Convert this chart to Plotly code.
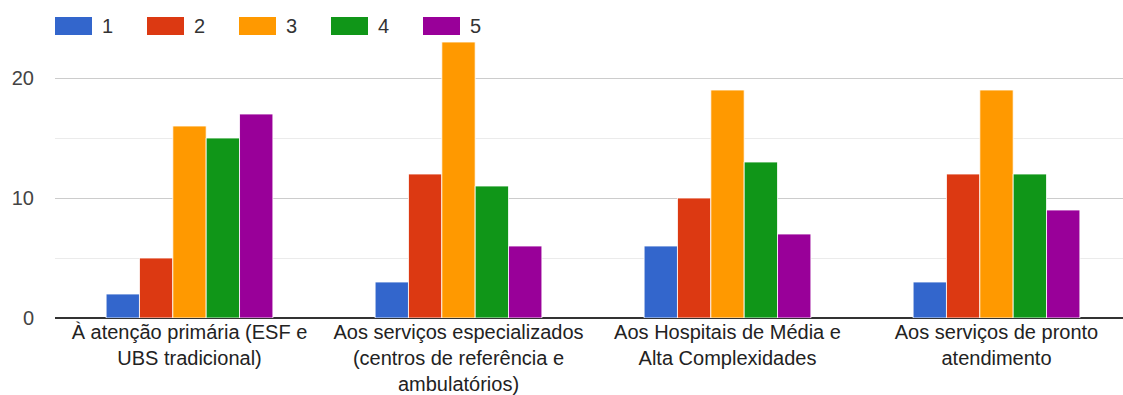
import plotly.graph_objects as go

categories = [
    "À atenção primária (ESF e<br>UBS tradicional)",
    "Aos serviços especializados<br>(centros de referência e<br>ambulatórios)",
    "Aos Hospitais de Média e<br>Alta Complexidades",
    "Aos serviços de pronto<br>atendimento",
]
series_names = ["1", "2", "3", "4", "5"]
values_1 = [2, 3, 6, 3]
values_2 = [5, 12, 10, 12]
values_3 = [16, 23, 19, 19]
values_4 = [15, 11, 13, 12]
values_5 = [17, 6, 7, 9]
series_values = [values_1, values_2, values_3, values_4, values_5]
colors = ["#3366cc", "#dc3912", "#ff9900", "#109618", "#990099"]

W, H = 1123, 395
ML, MR, MT, MB = 55, 0, 18, 77
FONT = "Liberation Sans, Arial, sans-serif"

fig = go.Figure()
for name, vals, col in zip(series_names, series_values, colors):
    fig.add_trace(go.Bar(
        x=list(range(len(categories))), y=vals, name=name,
        marker=dict(color=col, line=dict(color="rgba(255,255,255,0.8)", width=1)),
        showlegend=False,
    ))

# legend drawn as swatches + labels along the top
plot_w = W - ML - MR
plot_h = H - MT - MB
for i, (name, col) in enumerate(zip(series_names, colors)):
    x0 = 55 + i * 92
    fig.add_shape(type="rect", xref="paper", yref="paper",
                  x0=(x0 - ML) / plot_w, x1=(x0 + 37 - ML) / plot_w,
                  y0=(H - MB - 35) / plot_h, y1=(H - MB - 17) / plot_h,
                  fillcolor=col, line=dict(width=0), layer="above")
    fig.add_annotation(xref="paper", yref="paper",
                       x=(x0 + 45 - ML) / plot_w, y=(H - MB - 26) / plot_h,
                       text=name, showarrow=False, xanchor="left", yanchor="middle",
                       font=dict(family=FONT, size=20, color="#333333"))

cat_px = 269
fig.update_layout(
    width=W, height=H,
    margin=dict(l=ML, r=MR, t=MT, b=MB),
    paper_bgcolor="white", plot_bgcolor="white",
    barmode="group", bargap=0.38, bargroupgap=0.0,
    font=dict(family=FONT, size=20, color="#222222"),
    xaxis=dict(
        tickmode="array", tickvals=list(range(len(categories))), ticktext=categories,
        range=[-0.5, -0.5 + plot_w / cat_px],
        showgrid=False, showline=False, zeroline=False, ticks="",
        tickfont=dict(family=FONT, size=20, color="#222222"),
        ticklabelstandoff=0,
    ),
    yaxis=dict(
        range=[0, 25], dtick=10, tick0=0,
        showgrid=True, gridcolor="#cccccc", gridwidth=1,
        minor=dict(dtick=5, showgrid=True, gridcolor="#ebebeb", gridwidth=1),
        zeroline=True, zerolinecolor="#333333", zerolinewidth=2,
        showline=False, ticks="",
        ticklabelstandoff=20,
        tickfont=dict(family=FONT, size=20, color="#444444"),
    ),
)

fig.write_html("out.html")
